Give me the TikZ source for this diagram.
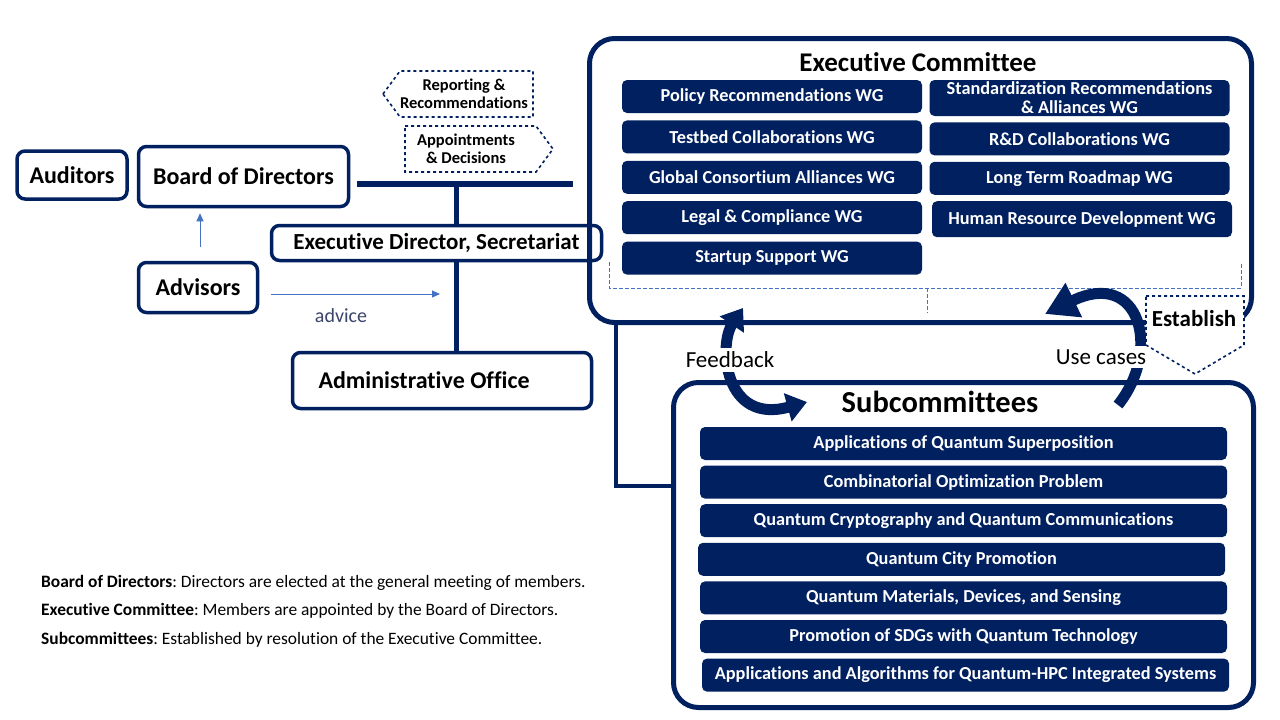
\documentclass[tikz,border=0pt]{standalone}
\usepackage{fontspec}
\setmainfont{Carlito}[Ligatures=NoCommon]
\usetikzlibrary{arrows.meta,positioning}
\definecolor{navy}{HTML}{002060}
\definecolor{lblue}{HTML}{4472C4}
\definecolor{advgray}{HTML}{3B4469}
\frenchspacing

\tikzset{
  orgbox/.style={draw=navy, line width=3.5pt, rounded corners=8pt, fill=white, inner sep=0pt,
    font=\bfseries\fontsize{24}{28}\selectfont},
  frame/.style={draw=navy, line width=5pt, rounded corners=25pt},
  wgbox/.style={fill=navy, rounded corners=5pt, text=white, inner sep=0pt, align=center,
    minimum width=300pt, minimum height=33pt, font=\bfseries\fontsize{18.3}{19}\selectfont},
  scbox/.style={wgbox, minimum width=527pt},
  link/.style={draw=navy, line width=5pt},
  hint/.style={draw=lblue, line width=1pt, -{Triangle[length=8pt,width=7pt]}},
  dashbox/.style={draw=navy, dashed, line width=1.6pt, fill=white},
  bracket/.style={draw=lblue, line width=0.8pt, dash pattern=on 4pt off 2pt},
  bigarrow/.style={draw=navy, line width=11pt},
  lbl/.style={fill=white, inner sep=4pt, font=\fontsize{23}{26}\selectfont},
  note/.style={anchor=west, inner sep=0pt, font=\fontsize{17.4}{20}\selectfont}
}

\begin{document}
\begin{tikzpicture}[x=1pt,y=-1pt]
  \useasboundingbox (0,0) rectangle (1280,720);

  % left side: board, auditors, advisors
  \node[orgbox, minimum width=110pt, minimum height=48pt] (aud) at (72,175) {Auditors};
  \node[orgbox, minimum width=210pt, minimum height=60pt] (bod) at (243.5,176.5) {Board of Directors};
  \node[orgbox, minimum width=119pt, minimum height=50pt] (adv) at (198,287.5) {Advisors};
  \node[orgbox, minimum width=330pt, minimum height=35pt, font=\bfseries\fontsize{23}{26}\selectfont] (eds) at (436.5,243) {Executive Director, Secretariat};
  \node[orgbox, minimum width=299pt, minimum height=56pt] (adm) at (442,380.5) {\makebox[247pt][l]{Administrative Office}};

  \coordinate (barw) at (357,184);
  \coordinate (bare) at (573,184);
  \coordinate (barmid) at (456,184);
  \draw[link, line width=6pt] (barw) -- (bare);
  \draw[link] (barmid) -- (barmid |- eds.north);
  \draw[link] (barmid |- eds.south) -- (barmid |- adm.north);

  \draw[hint] ([xshift=2pt,yshift=14pt]adv.north) -- ([xshift=2pt,yshift=-5pt]adv.north |- bod.south);
  \coordinate (advtip) at (440,294);
  \draw[hint] (advtip -| adv.east) ++(12,0) -- (advtip);
  \node[text=advgray, font=\fontsize{20}{24}\selectfont] (advlbl) at (341,316) {advice};

  \draw[dashbox] (383,94) -- (400,71) -- (533,71) -- (533,117) -- (400,117) -- cycle;
  \node[align=center, font=\bfseries\fontsize{16.5}{18}\selectfont] (rep) at (464,94) {Reporting \&\\Recommendations};
  \draw[dashbox] (405,126) -- (536,126) -- (553,149) -- (536,172) -- (405,172) -- cycle;
  \node[align=center, font=\bfseries\fontsize{16.5}{18}\selectfont] (app) at (466,149) {Appointments\\\& Decisions};

  % executive committee
  \node[frame, minimum width=662pt, minimum height=284pt] (ec) at (920.5,180.5) {};
  \node[font=\bfseries\fontsize{27}{30}\selectfont] (ectitle) at (918,62) {Executive Committee};

  \node[wgbox] (wg1) at (772,96.5) {Policy Recommendations WG};
  \node[wgbox] (wg3) [below=7pt of wg1] {Testbed Collaborations WG};
  \node[wgbox] (wg5) [below=7pt of wg3] {Global Consortium Alliances WG};
  \node[wgbox] (wg7) [below=7pt of wg5] {Legal \& Compliance WG};
  \node[wgbox] (wg9) [below=7pt of wg7] {Startup Support WG};

  \node[wgbox, minimum height=36pt] (wg2) at (1079.5,98) {Standardization Recommendations\\\& Alliances WG};
  \node[wgbox] (wg4) [below=6pt of wg2] {R\&D Collaborations WG};
  \node[wgbox] (wg6) [below=6pt of wg4] {Long Term Roadmap WG};
  \node[wgbox, minimum height=36pt, xshift=2.5pt] (wg8) [below=6pt of wg6] {Human Resource Development WG};

  \draw[bracket] (609,262) -- (609,288) -- (1241,288) -- (1241,262);
  \draw[bracket] (927,288) -- (927,313);

  % subcommittees
  \node[frame, minimum width=580pt, minimum height=325pt] (sc) at (963.5,545) {};
  \node[font=\bfseries\fontsize{30.5}{34}\selectfont] (sctitle) at (940,402) {Subcommittees};

  \node[scbox] (sc1) at (963.5,443.5) {Applications of Quantum Superposition};
  \node[scbox] (sc2) [below=5.2pt of sc1] {Combinatorial Optimization Problem};
  \node[scbox] (sc3) [below=5.2pt of sc2] {Quantum Cryptography and Quantum Communications};
  \node[scbox, xshift=-2pt] (sc4) [below=5.2pt of sc3] {Quantum City Promotion};
  \node[scbox] (sc5) [below=5.2pt of sc4.south -| sc3] {Quantum Materials, Devices, and Sensing};
  \node[scbox] (sc6) [below=5.2pt of sc5] {Promotion of SDGs with Quantum Technology};
  \node[scbox, xshift=2pt] (sc7) [below=5.2pt of sc6] {Applications and Algorithms for Quantum-HPC Integrated Systems};

  \coordinate (scjoin) at (616,486);
  \draw[link, line width=4pt] (scjoin |- ec.south) -- (scjoin) -- (scjoin -| sc.west);

  % feedback and use cases
  \draw[bigarrow, {Triangle[length=20pt,width=28pt]}-{Triangle[length=20pt,width=28pt]}]
    (743,308) .. controls (718,345) and (724,425) .. (807,402);
  \node[lbl] (fb) at (730,360) {Feedback};
  \draw[bigarrow, -{Triangle[length=32pt,width=36pt]}]
    (1118,405) .. controls (1162,350) and (1140,268) .. (1045,314);
  \node[lbl] (uc) at (1101,357) {Use cases};

  \draw[dashbox] (1146,296) -- (1244,296) -- (1244,345) -- (1195,374) -- (1146,345) -- cycle;
  \node[font=\bfseries\fontsize{23}{26}\selectfont] (est) at (1194,319) {Establish};

  % notes
  \node[note] (note1) at (41,582.5)
    {\textbf{Board of Directors}: Directors are elected at the general meeting of members.};
  \node[note] (note2) at (41,610.5)
    {\textbf{Executive Committee}: Members are appointed by the Board of Directors.};
  \node[note] (note3) at (41,639.5)
    {\textbf{Subcommittees}: Established by resolution of the Executive Committee.};
\end{tikzpicture}
\end{document}
